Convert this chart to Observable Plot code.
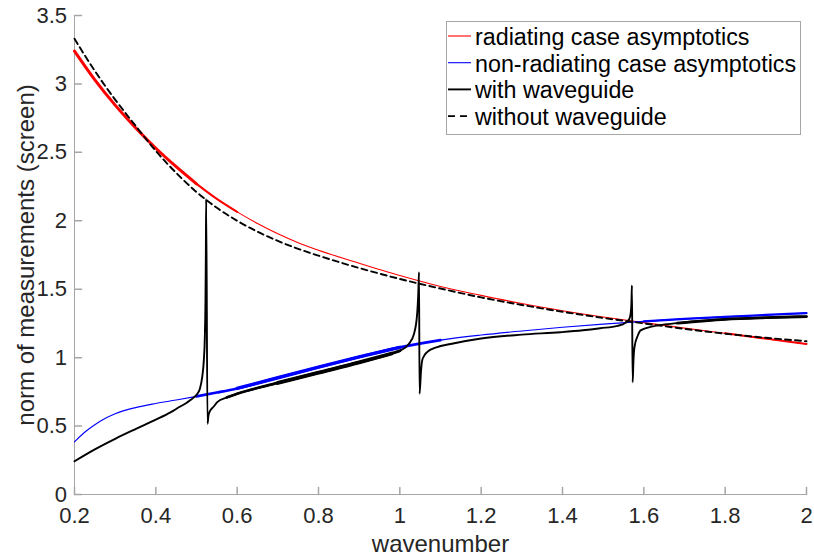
<!DOCTYPE html>
<html><head><meta charset="utf-8">
<script src="https://cdn.jsdelivr.net/npm/d3@7"></script>
<script src="https://cdn.jsdelivr.net/npm/@observablehq/plot@0.6"></script>
<style>
html,body{margin:0;padding:0;background:#fff;}
#wrap{position:relative;width:814px;height:555px;}
#legend{position:absolute;left:446px;top:21px;}
</style></head><body><div id="wrap"></div>
<script>
const xTicks = [0.2, 0.4, 0.6, 0.8, 1, 1.2, 1.4, 1.6, 1.8, 2];
const yTicks = [0, 0.5, 1, 1.5, 2, 2.5, 3, 3.5];
const xLabel = "wavenumber";
const yLabel = "norm of measurements (screen)";
const seriesNames = ["radiating case asymptotics", "non-radiating case asymptotics", "with waveguide", "without waveguide"];

const radiating = [[0.2,3.24],[0.25,3.03],[0.3,2.845],[0.35,2.68],[0.4,2.53],[0.45,2.395],[0.5,2.27],[0.55,2.16],[0.6,2.065],[0.65,1.98],[0.7,1.905],[0.75,1.84],[0.8,1.785],[0.9,1.69],[1.0,1.60],[1.1,1.52],[1.2,1.455],[1.3,1.395],[1.4,1.343],[1.5,1.297],[1.6,1.256],[1.7,1.216],[1.8,1.178],[1.9,1.139],[2.0,1.10]];

const nonRadiating = [[0.2,0.385],[0.225,0.455],[0.25,0.51],[0.275,0.555],[0.3,0.59],[0.35,0.635],[0.4,0.665],[0.45,0.69],[0.5,0.717],[0.55,0.745],[0.6,0.775],[0.7,0.853],[0.8,0.93],[0.9,1.005],[1.0,1.075],[1.1,1.128],[1.2,1.165],[1.3,1.195],[1.4,1.222],[1.5,1.245],[1.6,1.265],[1.7,1.283],[1.8,1.298],[1.9,1.312],[2.0,1.325]];

const withWaveguide = [[0.2,0.243],[0.25,0.33],[0.3,0.407],[0.35,0.478],[0.4,0.547],[0.436,0.60],[0.46,0.643],[0.475,0.668],[0.485,0.69],[0.495,0.713],[0.502,0.736],[0.508,0.77],[0.514,0.857],[0.518,0.98],[0.5205,1.15],[0.522,1.4],[0.523,1.75],[0.5238,2.16],[0.527,0.517],[0.5295,0.578],[0.534,0.614],[0.5425,0.643],[0.551,0.675],[0.575,0.71],[0.6,0.736],[0.7,0.815],[0.8,0.89],[0.9,0.965],[0.98,1.03],[1.0,1.05],[1.022,1.10],[1.035,1.175],[1.0426,1.32],[1.0455,1.48],[1.0472,1.625],[1.0485,0.736],[1.052,0.90],[1.055,0.98],[1.06,1.015],[1.067,1.04],[1.09,1.075],[1.125,1.10],[1.2,1.14],[1.3,1.168],[1.395,1.186],[1.45,1.2],[1.493,1.215],[1.535,1.232],[1.555,1.255],[1.564,1.28],[1.5675,1.32],[1.5695,1.40],[1.5707,1.528],[1.5725,0.82],[1.5745,0.98],[1.577,1.077],[1.585,1.16],[1.592,1.199],[1.622,1.228],[1.682,1.252],[1.8,1.28],[1.9,1.292],[2.0,1.30]];

const withoutWaveguide = [[0.2,3.33],[0.25,3.095],[0.3,2.885],[0.35,2.695],[0.4,2.51],[0.45,2.35],[0.5,2.21],[0.55,2.095],[0.6,2.0],[0.65,1.92],[0.7,1.853],[0.75,1.795],[0.8,1.745],[0.9,1.655],[1.0,1.575],[1.1,1.505],[1.2,1.44],[1.3,1.385],[1.4,1.335],[1.5,1.29],[1.6,1.25],[1.7,1.21],[1.8,1.175],[1.9,1.145],[2.0,1.12]];

const FONT = "'Liberation Sans', Arial, Helvetica, sans-serif";
const AXIS = "#a6a6a6";
const TXT = "#262626";
const range = (data, a, b) => data.filter(d => d[0] >= a && d[0] <= b);
const lineOpts = (stroke, w, extra = {}) => ({x: d => d[0], y: d => d[1], stroke, strokeWidth: w, curve: "monotone-x", ...extra});
const tickUp = {draw(c, l) { c.moveTo(0, 0); c.lineTo(0, -l); }};
const tickRight = {draw(c, l) { c.moveTo(0, 0); c.lineTo(l, 0); }};

const chart = Plot.plot({
  width: 814, height: 555,
  marginLeft: 74, marginRight: 8, marginTop: 15, marginBottom: 61,
  style: {fontFamily: FONT, fontSize: "22px", color: TXT, background: "white", overflow: "visible"},
  x: {domain: [0.2, 2]},
  y: {domain: [0, 3.5]},
  marks: [
    Plot.ruleY([0], {stroke: AXIS}),
    Plot.ruleX([0.2], {stroke: AXIS}),
    Plot.vector(xTicks, {x: d => d, frameAnchor: "bottom", anchor: "start", length: 7, shape: tickUp, stroke: AXIS}),
    Plot.vector(yTicks, {y: d => d, frameAnchor: "left", anchor: "start", length: 7, shape: tickRight, stroke: AXIS}),
    Plot.axisX({ticks: xTicks, tickFormat: d => String(d), tickSize: 0, tickPadding: 13, label: null, fill: TXT}),
    Plot.axisY({ticks: yTicks, tickFormat: d => String(d), tickSize: 0, tickPadding: 7.5, label: null, fill: TXT}),
    Plot.text([xLabel], {frameAnchor: "bottom", dy: 57, lineAnchor: "bottom", textAnchor: "middle", fontSize: 24, fill: TXT}),
    Plot.text([yLabel], {frameAnchor: "left", rotate: -90, dx: -41, lineAnchor: "bottom", textAnchor: "middle", fontSize: 24, fill: TXT}),
    // radiating (red)
    Plot.line(radiating, lineOpts("#ff0000", 1.1)),
    Plot.line(range(radiating, 0.2, 0.5), lineOpts("#ff0000", 3)),
    Plot.line(range(radiating, 0.5, 0.6), lineOpts("#ff0000", 2)),
    Plot.line(range(radiating, 1.8, 2.0), lineOpts("#ff0000", 2)),
    // non-radiating (blue)
    Plot.line(nonRadiating, lineOpts("#0000ff", 1.1)),
    Plot.line(range(nonRadiating, 0.5, 1.1), lineOpts("#0000ff", 2.6)),
    Plot.line(range(nonRadiating, 0.6, 1.0), lineOpts("#0000ff", 3.4)),
    Plot.line(range(nonRadiating, 1.6, 2.0), lineOpts("#0000ff", 2.2)),
    // with waveguide (black)
    Plot.line(withWaveguide, lineOpts("#000000", 1.9)),
    Plot.line(range(withWaveguide, 0.575, 1.0), lineOpts("#000000", 2.8)),
    Plot.line(range(withWaveguide, 0.65, 0.98), lineOpts("#000000", 3.8)),
    Plot.line(range(withWaveguide, 1.682, 2.0), lineOpts("#000000", 2.8)),
    // without waveguide (dashed)
    Plot.line(withoutWaveguide, lineOpts("#000000", 1.9, {strokeDasharray: "6,4"}))
  ]
});

const wrap = document.getElementById("wrap");
wrap.appendChild(chart);

// legend
const legendStyles = [
  {stroke: "#ff0000", w: 1.1, dash: null, len: 25},
  {stroke: "#0000ff", w: 1.1, dash: null, len: 25},
  {stroke: "#000000", w: 1.9, dash: null, len: 25},
  {stroke: "#000000", w: 1.9, dash: "7,5", len: 21}
];
const lg = d3.select(wrap).append("svg").attr("id", "legend").attr("width", 356).attr("height", 115);
lg.append("rect").attr("x", 0.5).attr("y", 0.5).attr("width", 354).attr("height", 113)
  .attr("fill", "white").attr("stroke", AXIS);
seriesNames.forEach((name, i) => {
  const base = 24 + i * 26.7;
  const s = legendStyles[i];
  lg.append("line").attr("x1", 2).attr("x2", s.len).attr("y1", base - 9).attr("y2", base - 9)
    .attr("stroke", s.stroke).attr("stroke-width", s.w).attr("stroke-dasharray", s.dash);
  lg.append("text").attr("x", 29).attr("y", base).attr("font-family", FONT)
    .attr("font-size", 23.3).attr("fill", "#000").text(name);
});
</script></body></html>
